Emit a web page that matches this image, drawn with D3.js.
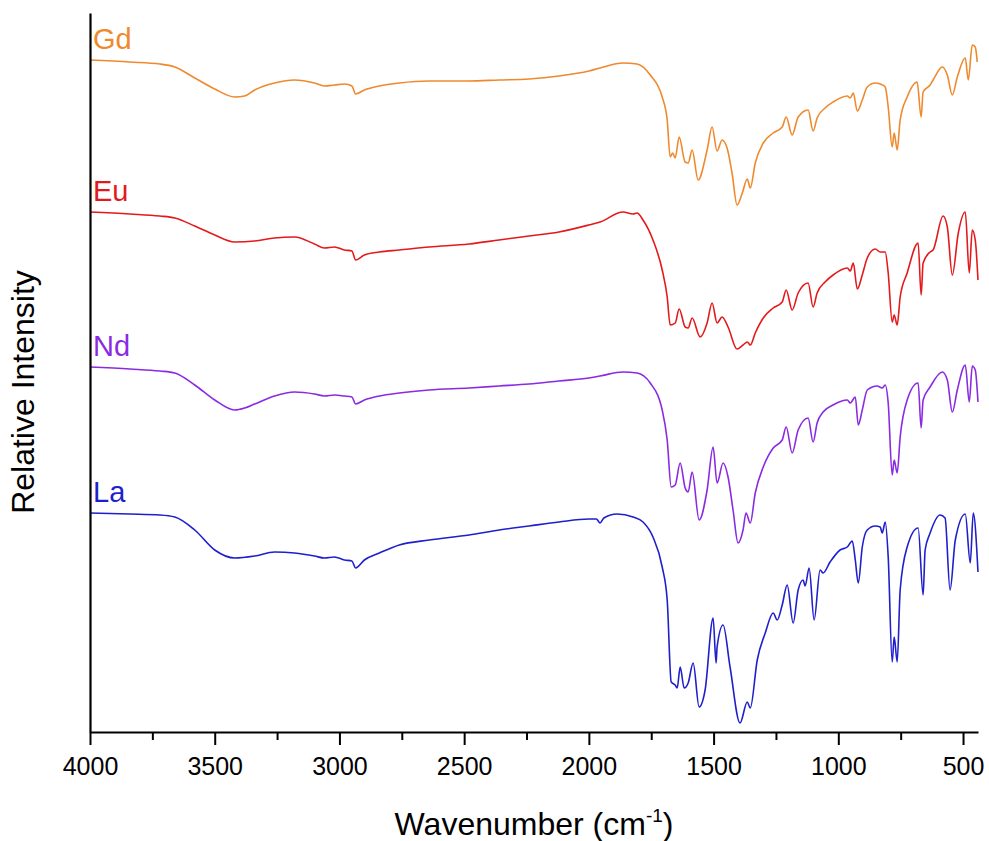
<!DOCTYPE html>
<html>
<head>
<meta charset="utf-8">
<script src="https://cdn.jsdelivr.net/npm/d3@7"></script>
<style>
  html, body { margin: 0; padding: 0; background: #fff; }
  svg { display: block; }
  text { font-family: "Liberation Sans", Arial, sans-serif; }
</style>
</head>
<body>
<svg id="chart" width="989" height="841"></svg>
<script>
// ---- Data: [wavenumber (cm-1), relative intensity (offset-stacked, arbitrary units)] ----
const seriesNames = ["Gd", "Eu", "Nd", "La"];
const seriesColors = ["#EE8A2D", "#E31A1C", "#8A2BE2", "#1F1FCC"];

const gdData = [
  [4000,67.2],[3840,67.0],[3720,66.8],[3660,66.5],[3580,65.4],[3500,64.3],[3420,63.5],[3380,63.6],[3340,64.2],[3260,64.9],
  [3180,65.2],[3100,64.9],[3060,64.6],[3020,64.7],[2980,64.8],[2950,64.6],[2935,63.8],[2900,64.2],[2840,64.6],
  [2760,64.9],[2640,65.1],[2480,65.1],[2360,65.2],[2240,65.3],[2120,65.6],[2000,66.1],
  [1955,66.4],[1863,66.9],[1807,66.8],[1754,65.7],[1706,63.5],[1686,61.2],[1674,57.5],[1664,57.9],
  [1654,57.4],[1638,59.5],[1614,57.0],[1602,56.9],[1586,58.2],[1562,55.2],[1526,58.2],[1506,60.5],
  [1486,58.1],[1466,59.2],[1446,58.4],[1426,55.9],[1406,52.7],[1385,53.9],[1365,55.3],[1353,54.4],
  [1333,56.9],[1301,58.9],[1261,59.9],[1225,60.5],[1209,61.5],[1185,59.7],[1161,61.5],[1121,62.2],
  [1101,60.1],[1085,61.4],[1053,62.4],[1021,63.0],[964,63.6],[952,63.4],[940,63.9],[924,62.1],
  [904,63.2],[884,64.5],[852,64.9],[832,64.8],[812,64.5],[800,62.5],[784,58.5],[776,59.9],
  [764,58.2],[752,61.2],[724,63.5],[684,65.0],[668,61.5],[660,64.0],[632,64.7],[620,65.2],
  [583,66.5],[563,65.7],[543,63.7],[523,65.5],[491,67.4],[479,65.2],[463,68.7],[451,68.5],[443,67.0]
];

const euData = [
  [4000,52.0],[3840,51.8],[3720,51.6],[3660,51.4],[3580,50.6],[3500,49.7],[3420,49.0],[3340,49.1],[3260,49.4],
  [3180,49.5],[3100,48.8],[3060,48.4],[3020,48.5],[2980,48.2],[2950,48.1],[2935,47.2],[2900,47.7],[2840,48.0],
  [2760,48.2],[2640,48.5],[2480,48.8],[2360,49.2],[2240,49.6],[2120,50.0],[2000,50.7],
  [1955,51.0],[1863,52.0],[1823,51.8],[1807,51.9],[1783,51.2],[1743,49.2],[1706,46.2],[1686,43.5],
  [1674,40.7],[1654,40.9],[1638,42.3],[1614,40.5],[1602,40.4],[1586,41.4],[1554,39.5],[1526,40.9],
  [1506,42.9],[1486,40.9],[1466,41.5],[1442,40.5],[1406,38.3],[1382,38.7],[1365,39.0],[1353,38.7],
  [1333,39.9],[1301,41.4],[1261,42.4],[1225,43.0],[1209,44.2],[1185,42.2],[1161,43.9],[1121,44.9],
  [1101,42.5],[1085,43.9],[1053,45.0],[1021,45.7],[964,46.4],[952,46.1],[940,46.9],[924,44.3],
  [904,45.7],[884,47.4],[852,48.3],[832,48.0],[812,48.0],[800,45.9],[784,41.0],[776,41.7],
  [764,40.7],[752,43.5],[724,45.9],[680,48.9],[668,43.7],[660,46.9],[632,48.0],[620,48.2],
  [580,51.6],[563,50.5],[543,45.7],[519,49.9],[491,52.0],[475,45.9],[463,50.2],[451,49.2],[440,45.2]
];

const ndData = [
  [4000,36.5],[3840,36.3],[3720,36.1],[3660,35.9],[3580,34.7],[3500,33.2],[3420,32.2],[3380,32.4],[3340,32.8],[3260,33.6],
  [3180,34.0],[3100,33.8],[3060,33.6],[3020,33.7],[2980,33.6],[2950,33.5],[2935,32.8],[2900,33.2],[2840,33.6],
  [2760,33.9],[2640,34.2],[2480,34.4],[2360,34.6],[2240,34.8],[2120,35.1],[2000,35.4],
  [1955,35.6],[1863,36.0],[1807,35.9],[1754,34.9],[1706,32.2],[1686,29.2],[1670,24.5],[1654,24.7],
  [1634,26.9],[1614,24.4],[1602,24.0],[1586,26.0],[1558,21.2],[1526,24.2],[1502,28.5],[1486,24.9],
  [1462,26.9],[1442,25.5],[1422,22.2],[1402,18.9],[1382,20.2],[1370,21.9],[1353,20.9],[1333,23.9],
  [1301,26.5],[1261,28.4],[1225,29.2],[1209,30.5],[1185,27.9],[1161,30.2],[1121,31.4],[1101,29.0],
  [1085,30.9],[1061,32.0],[1021,32.7],[964,33.2],[952,32.9],[932,33.5],[920,30.7],[904,32.2],
  [884,34.2],[844,34.6],[824,34.4],[812,34.7],[800,32.9],[784,25.7],[776,27.2],[764,25.9],
  [752,29.5],[724,33.2],[680,34.9],[668,30.4],[660,33.2],[632,34.5],[583,36.0],[563,35.2],
  [543,32.0],[523,34.2],[491,36.7],[475,33.0],[463,36.6],[451,36.2],[440,33.0]
];

const laData = [
  [4000,21.9],[3840,21.8],[3720,21.7],[3660,21.5],[3580,20.2],[3500,18.2],[3420,17.4],[3340,17.6],[3260,18.0],
  [3180,17.9],[3100,17.6],[3060,17.4],[3020,17.5],[2980,17.2],[2950,17.1],[2935,16.4],[2900,17.2],[2840,17.9],
  [2760,18.7],[2640,19.2],[2480,19.7],[2360,20.2],[2240,20.6],[2120,21.0],[2000,21.3],
  [1970,21.3],[1955,20.9],[1940,21.4],[1887,21.8],[1823,21.5],[1783,21.0],[1743,19.5],[1706,16.5],
  [1686,13.2],[1670,5.0],[1654,4.7],[1646,4.4],[1634,6.5],[1618,4.4],[1602,4.9],[1582,6.9],
  [1558,2.5],[1534,4.2],[1502,11.4],[1490,6.9],[1486,8.5],[1462,10.7],[1434,6.5],[1394,0.9],
  [1365,3.0],[1353,2.4],[1325,7.2],[1293,9.9],[1261,11.9],[1245,11.2],[1225,12.7],[1205,14.7],
  [1181,10.9],[1161,14.2],[1141,15.2],[1133,14.6],[1117,16.4],[1097,11.2],[1073,16.2],[1061,15.9],
  [1033,17.0],[993,18.2],[964,18.5],[944,19.1],[932,17.2],[920,14.9],[904,18.5],[884,20.2],
  [852,20.6],[832,20.5],[824,19.9],[812,21.0],[800,17.5],[784,7.0],[776,9.5],[764,7.0],
  [752,14.2],[724,18.5],[680,20.4],[660,13.7],[652,18.2],[632,19.9],[592,21.7],[572,21.4],
  [552,14.2],[531,19.2],[491,21.8],[471,16.9],[459,21.9],[440,16.0]
];

const seriesData = [gdData, euData, ndData, laData];
const majorTicks = [4000, 3500, 3000, 2500, 2000, 1500, 1000, 500];
const minorTicks = [3750, 3250, 2750, 2250, 1750, 1250, 750];
const xTitle = "Wavenumber (cm";
const xTitleSup = "-1";
const yTitle = "Relative Intensity";

// ---- Layout ----
const svg = d3.select("#chart");
const mLeft = 90, mRight = 978, mTop = 13, mBottom = 732;

const x = d3.scaleLinear().domain([4000, 440]).range([mLeft, mRight]);
const y = d3.scaleLinear().domain([0, 71.9]).range([mBottom, mTop]);

const line = d3.line().curve(d3.curveMonotoneX).x(d => x(d[0])).y(d => y(d[1]));

// spectra
seriesData.forEach((data, i) => {
  svg.append("path")
    .datum(data)
    .attr("fill", "none")
    .attr("stroke", seriesColors[i])
    .attr("stroke-width", 1.6)
    .attr("stroke-linejoin", "round")
    .attr("d", line);

  svg.append("text")
    .attr("x", mLeft + 3)
    .attr("y", y(data[0][1]) - 11)
    .attr("fill", seriesColors[i])
    .attr("font-size", 29)
    .text(seriesNames[i]);
});

// x axis (major)
const xAxis = d3.axisBottom(x).tickValues(majorTicks).tickSize(13).tickPadding(12).tickSizeOuter(0)
  .tickFormat(d3.format("d"));
const gx = svg.append("g").attr("transform", `translate(0,${mBottom})`).call(xAxis);
gx.select(".domain").attr("stroke", "#000").attr("stroke-width", 2.2);
gx.selectAll(".tick line").attr("stroke", "#000").attr("stroke-width", 2);
gx.selectAll(".tick text").attr("font-size", 25).attr("fill", "#000")
  .attr("font-family", "'Liberation Sans', Arial, sans-serif");

// minor ticks
const xMinor = d3.axisBottom(x).tickValues(minorTicks).tickSize(8).tickFormat("").tickSizeOuter(0);
const gm = svg.append("g").attr("transform", `translate(0,${mBottom})`).call(xMinor);
gm.select(".domain").remove();
gm.selectAll(".tick line").attr("stroke", "#000").attr("stroke-width", 2);

// y axis line (no ticks)
const yAxis = d3.axisLeft(y).tickValues([]).tickSizeOuter(0);
const gy = svg.append("g").attr("transform", `translate(${mLeft},0)`).call(yAxis);
gy.select(".domain").attr("stroke", "#000").attr("stroke-width", 2.2);

// titles
const xt = svg.append("text")
  .attr("x", (mLeft + mRight) / 2)
  .attr("y", 835)
  .attr("text-anchor", "middle")
  .attr("font-size", 32)
  .attr("fill", "#000");
xt.append("tspan").text(xTitle);
xt.append("tspan").attr("font-size", 19).attr("dy", -13).text(xTitleSup);
xt.append("tspan").attr("dy", 13).text(")");

svg.append("text")
  .attr("transform", `translate(34, 392) rotate(-90)`)
  .attr("text-anchor", "middle")
  .attr("font-size", 32)
  .attr("fill", "#000")
  .text(yTitle);
</script>
</body>
</html>
